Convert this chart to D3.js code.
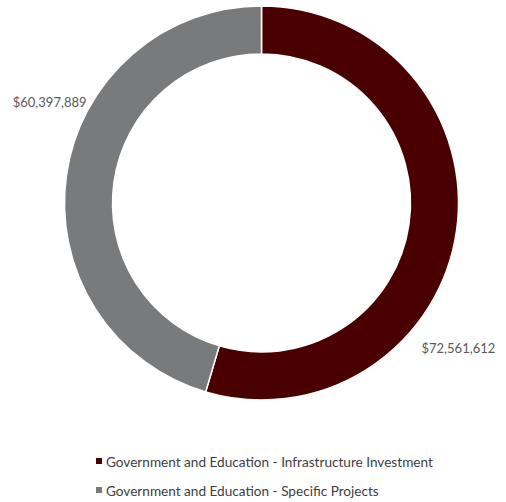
<!DOCTYPE html>
<html>
<head>
<meta charset="utf-8">
<script src="https://cdn.jsdelivr.net/npm/d3@7"></script>
<style>
  body { margin: 0; background: #fff; }
  text { font-family: Lato, "Open Sans", sans-serif; }
</style>
</head>
<body>
<div id="chart"></div>
<script>
const categories = [
  'Government and Education - Infrastructure Investment',
  'Government and Education - Specific Projects'
]
const values = [72561612, 60397889]
const colors = ['#4b0000', '#797a7c']

const svgWidth = 506
const svgHeight = 502
const cx = 261.5
const cy = 203
const outerR = 197
const innerR = 149

let svg = d3.select('#chart')
  .append('svg')
  .attr('width', svgWidth)
  .attr('height', svgHeight)

let data = categories.map((c, i) => ({name: c, value: values[i], color: colors[i]}))

let pie = d3.pie()
  .value(d => d.value)
  .sort(null)

let arc = d3.arc()
  .innerRadius(innerR)
  .outerRadius(outerR)

let plot = svg.append('g')
  .attr('transform', 'translate(' + cx + ',' + cy + ')')

let arcs = pie(data)

plot.selectAll('.slice')
  .data(arcs)
  .enter()
  .append('path')
  .attr('class', 'slice')
  .attr('d', arc)
  .attr('fill', d => d.data.color)
  .attr('stroke', '#fff')
  .attr('stroke-width', 1.5)

// data labels sit just outside the ring (Excel "best fit")
const labelPos = [
  {x: 160, y: 150, anchor: 'start'},
  {x: -175, y: -96, anchor: 'end'}
]
let fmt = d3.format('$,.0f')

plot.selectAll('.label')
  .data(arcs)
  .enter()
  .append('text')
  .attr('class', 'label')
  .attr('x', (d, i) => labelPos[i].x)
  .attr('y', (d, i) => labelPos[i].y)
  .attr('text-anchor', (d, i) => labelPos[i].anchor)
  .attr('font-size', 13)
  .attr('fill', '#595959')
  .text(d => fmt(d.data.value))

// legend
let legend = svg.append('g')
  .attr('transform', 'translate(96,0)')

let items = legend.selectAll('.item')
  .data(data)
  .enter()
  .append('g')
  .attr('class', 'item')
  .attr('transform', (d, i) => 'translate(0,' + (462 + i 	* 29) + ')')

items.append('rect')
  .attr('x', 0)
  .attr('y', -4)
  .attr('width', 6)
  .attr('height', 6)
  .attr('fill', d => d.color)

items.append('text')
  .attr('x', 10)
  .attr('y', 4.5)
  .attr('font-size', 13.6)
  .attr('fill', '#404040')
  .text(d => d.name)
</script>
</body>
</html>
